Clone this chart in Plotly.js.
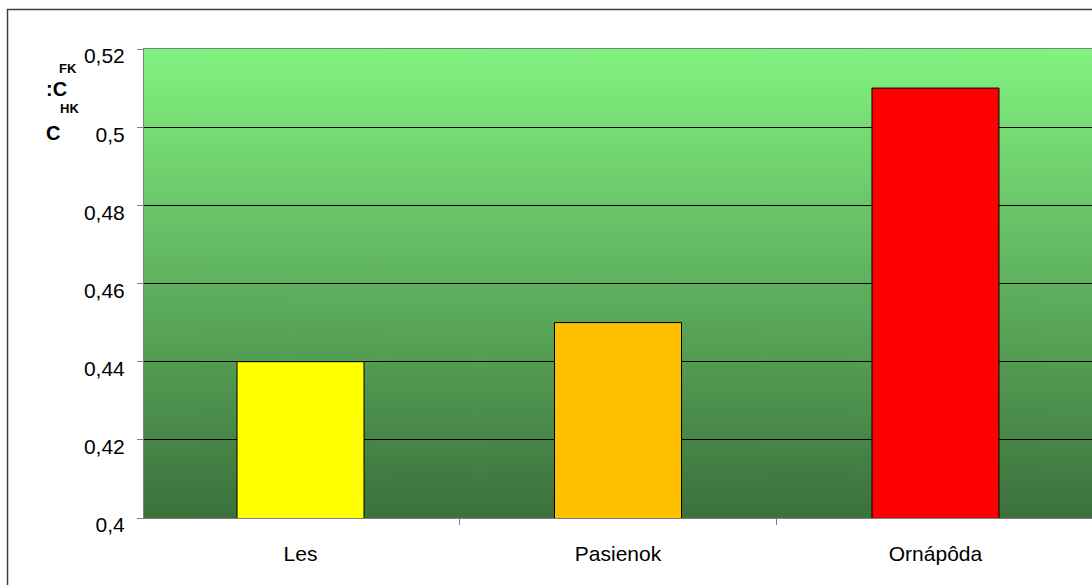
<!DOCTYPE html>
<html>
<head>
<meta charset="utf-8">
<script src="https://cdn.plot.ly/plotly-3.0.1.min.js"></script>
<style>
html,body{margin:0;padding:0;background:#fff;}
#chart{width:1092px;height:585px;}
</style>
</head>
<body>
<div id="chart"></div>
<script>
// Data
const categories = ["Les", "Pasienok", "Ornápôda"];
const values = [0.44, 0.45, 0.51];
const yTickVals = [0.4, 0.42, 0.44, 0.46, 0.48, 0.5, 0.52];
const yTickText = ["0,4", "0,42", "0,44", "0,46", "0,48", "0,5", "0,52"];

// Styles
const barColors = ["#FFFF00", "#FFC000", "#FF0000"];
const FONT = "Liberation Sans, Arial, sans-serif";

// Gradient background image for the plot area
const cv = document.createElement("canvas");
cv.width = 10; cv.height = 469;
const ctx = cv.getContext("2d");
const g = ctx.createLinearGradient(0, 0, 0, 469);
g.addColorStop(0, "rgb(130,242,128)");
g.addColorStop(1, "rgb(60,112,60)");
ctx.fillStyle = g;
ctx.fillRect(0, 0, 10, 469);
const bgSrc = cv.toDataURL("image/png");

const trace = {
  type: "bar",
  x: categories,
  y: values,
  width: 0.4,
  marker: {color: barColors, line: {color: "#000000", width: 1}},
  hoverinfo: "x+y"
};

const L = 144, T = 49, W = 948, H = 469;
function px(x) { return (x - L) / W; }
function py(y) { return (T + H - y) / H; }

const titleParts = [
  {t: "FK", x: 67.5, y: 69, s: 13},
  {t: ":C", x: 56.5, y: 89, s: 20},
  {t: "HK", x: 69.5, y: 108.5, s: 13},
  {t: "C", x: 52.5, y: 132.5, s: 20}
];

const layout = {
  width: 1092,
  height: 585,
  margin: {l: L, r: 0, t: T, b: 585 - T - H, pad: 0},
  paper_bgcolor: "#ffffff",
  plot_bgcolor: "rgba(0,0,0,0)",
  showlegend: false,
  bargap: 0.6,
  xaxis: {
    type: "category",
    range: [-0.493, 2.493],
    showline: true,
    linecolor: "#808080",
    linewidth: 1,
    mirror: true,
    showgrid: false,
    ticks: "outside",
    tickson: "boundaries",
    ticklen: 6,
    tickcolor: "#808080",
    tickfont: {family: FONT, size: 21, color: "#000"},
    ticklabelstandoff: 17,
    fixedrange: true
  },
  yaxis: {
    range: [0.4, 0.52],
    tickvals: yTickVals,
    ticktext: yTickText,
    showline: true,
    linecolor: "#808080",
    linewidth: 1,
    mirror: true,
    showgrid: true,
    gridcolor: "#000000",
    gridwidth: 1,
    zeroline: false,
    ticks: "outside",
    ticklen: 6,
    tickcolor: "#808080",
    tickfont: {family: FONT, size: 21, color: "#000"},
    ticklabelshift: 7,
    ticklabelstandoff: 8,
    fixedrange: true
  },
  images: [{
    source: bgSrc,
    xref: "paper", yref: "paper",
    x: 0, y: 1, sizex: 1, sizey: 1,
    xanchor: "left", yanchor: "top",
    sizing: "stretch",
    layer: "below"
  }],
  shapes: [{
    type: "rect",
    xref: "paper", yref: "paper",
    x0: px(7.5), x1: 1.05, y0: -0.3, y1: py(9.5),
    line: {color: "#404040", width: 1.5},
    fillcolor: "rgba(0,0,0,0)"
  }],
  annotations: titleParts.map(p => ({
    text: "<b>" + p.t + "</b>",
    xref: "paper", yref: "paper",
    x: px(p.x), y: py(p.y),
    xanchor: "center", yanchor: "middle",
    showarrow: false,
    font: {family: FONT, size: p.s, color: "#000"}
  }))
};

Plotly.newPlot("chart", [trace], layout, {displayModeBar: false, staticPlot: true});
</script>
</body>
</html>
